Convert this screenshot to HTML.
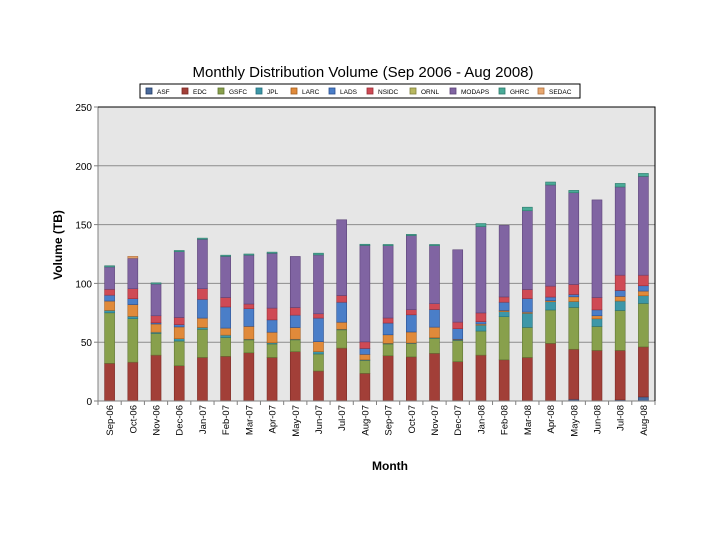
<!DOCTYPE html>
<html><head><meta charset="utf-8"><style>
body{margin:0;background:#fff;}
svg{display:block;font-family:"Liberation Sans",Arial,sans-serif;}
</style></head><body>
<svg id="chart" width="720" height="540">
<text x="363" y="77" text-anchor="middle" font-size="15" fill="#000">Monthly Distribution Volume (Sep 2006 - Aug 2008)</text>
<text transform="translate(62,245) rotate(-90)" text-anchor="middle" font-size="12" font-weight="bold">Volume (TB)</text>
<text x="390" y="470" text-anchor="middle" font-size="12" font-weight="bold">Month</text>
<rect x="98" y="107" width="557" height="294" fill="#e6e6e6"/>
<g id="grid"></g><g id="bars"></g><g id="axes"></g><g id="legend"></g>
</svg>
<script>
const months=["Sep-06","Oct-06","Nov-06","Dec-06","Jan-07","Feb-07","Mar-07","Apr-07","May-07","Jun-07","Jul-07","Aug-07","Sep-07","Oct-07","Nov-07","Dec-07","Jan-08","Feb-08","Mar-08","Apr-08","May-08","Jun-08","Jul-08","Aug-08"];
const seriesNames=["ASF","EDC","GSFC","JPL","LaRC","LaDs","NSIDC","ORNL","MODAPS","GHRC","SEDAC"];
const ASF=[0,0,0,0,0,0,0,0,0,0,0,0,0,0,0,0,0,0,0,0,1.5,0,1,3.5];
const EDC=[32,33,39,30,37,38,41,37,42,25.5,45,23.5,38.5,37.5,40.5,33.5,39,35,37,49,42.5,43,42,42.5];
const GSFC=[43,37,18.5,21,24,16,11,11.5,10,14.5,15.5,11,10,11.3,12.8,18,20.5,36.7,25.6,28.4,35.6,20.4,34,37];
const JPL=[2,2,1,2,1.5,2,0.5,1,0.5,2,0.5,0.5,0.5,0.5,0.5,0.5,5,4.3,12,7,5,6.5,8,6.5];
const LaRC=[8,10,7,10,8,6,11,9,10,8.5,6,4.7,7.3,9.4,9,0.5,1,1,1,1,4,2.6,4,4];
const LaDs=[5,5,1,2,16,18,15,10.5,10.5,20,17,5,10,14.6,15,9,2,7,11.5,3,2,5,5,4.5];
const NSIDC=[5,8.5,6,6,9,8,4,10,6.5,3.7,5.7,5.6,4.3,4.4,5,5.6,7.4,4.5,7.7,9.3,8.5,10.5,13,9];
const ORNL=[0,0,0,0,0,0,0,0,0,0,0,0,0,0,0,0,0,0,0,0,0,0,0,0];
const MODAPS=[19,26,27,56,42,35,41.5,46.6,43.4,50,64.4,82,61.5,63,49.3,61.5,73.4,60.8,67,86,78,83,75,84];
const GHRC=[1,0,1,1,1,1,1,1,0,1.5,0,1,1,1,1,0,2.6,0,3,2.5,2,0,3,2.5];
const SEDAC=[0,1.5,0,0,0,0,0,0,0,0,0,0,0,0,0,0,0,0,0,0,0,0,0,0];
const yTicks=[0,50,100,150,200,250];
const seriesData=[ASF,EDC,GSFC,JPL,LaRC,LaDs,NSIDC,ORNL,MODAPS,GHRC,SEDAC];
const colors=["#4a6a9c","#a23f38","#88a04c","#3d97a8","#e08a3a","#4a7ec8","#cf4a55","#b8b860","#8064a2","#4aab98","#e8a870"];
const strokes=["#243c66","#7a2a25","#607534","#25707e","#a65f20","#2a4f90","#9a2f38","#80803c","#5c4478","#2f7a6c","#b07040"];
const NS="http://www.w3.org/2000/svg";
const X0=98,X1=655,Y0=401,Y1=107,VMAX=250;
const band=(X1-X0)/months.length;
function xc(i){return X0+band*(i+0.5);}
function ys(v){return Y0-(v/VMAX)*(Y0-Y1);}
function mk(t,a,p){const e=document.createElementNS(NS,t);for(const k in a)e.setAttribute(k,a[k]);p.appendChild(e);return e;}
const grid=document.getElementById('grid'),bars=document.getElementById('bars'),axes=document.getElementById('axes'),leg=document.getElementById('legend');
yTicks.forEach(t=>{
  if(t>0&&t<VMAX){const l=mk('line',{x1:X0,x2:X1,y1:ys(t),y2:ys(t),stroke:'#8c8c8c','stroke-width':1},grid);
  
  }
  const tk=mk('line',{x1:X0-4,x2:X0,y1:ys(t),y2:ys(t),stroke:'#808080'},axes);
  
  
  const tx=mk('text',{x:X0-6,y:ys(t)+4,'text-anchor':'end','font-size':10,fill:'#000'},axes);
  tx.textContent=t;
  
  
});
const bw=10;
months.forEach((m,i)=>{
  let acc=0;
  seriesData.forEach((arr,s)=>{
    const v=arr[i];if(!v)return;
    const r=mk('rect',{x:xc(i)-bw/2,y:ys(acc+v),width:bw,height:ys(acc)-ys(acc+v),fill:colors[s],stroke:strokes[s],'stroke-width':0.6},bars);
    
    
    acc+=v;
  });
  const tx=mk('text',{transform:'translate('+(xc(i)+3.5)+',405) rotate(-90)','text-anchor':'end','font-size':9.5},axes);
  tx.textContent=m;
  
  
});
for(let i=0;i<=months.length;i++){
  const t=mk('line',{x1:X0+band*i,x2:X0+band*i,y1:Y0,y2:Y0+4,stroke:'#808080'},axes);
  
  
}
const ax=mk('line',{x1:X0,x2:X1,y1:Y0,y2:Y0,stroke:'#808080'},axes);


const ay=mk('line',{x1:X0,x2:X0,y1:Y1,y2:Y0,stroke:'#808080'},axes);


const bt=mk('polyline',{points:X0+','+Y1+' '+X1+','+Y1+' '+X1+','+Y0,fill:'none',stroke:'#000','stroke-width':1},axes);


const lb=mk('rect',{x:140,y:84,width:440,height:14,fill:'#fff',stroke:'#000','stroke-width':1},leg);


const lx=[146,182,218,256,291,329,367,410,450,499,538];
seriesNames.forEach((n,s)=>{
  const g=mk('g',{},leg);
  
  
  mk('rect',{x:lx[s],y:88,width:6,height:6,fill:colors[s],stroke:strokes[s],'stroke-width':0.8},g);
  const t=mk('text',{x:lx[s]+11,y:94,'font-size':6.5},g);
  t.textContent=n.toUpperCase();
});
</script>
</body></html>
